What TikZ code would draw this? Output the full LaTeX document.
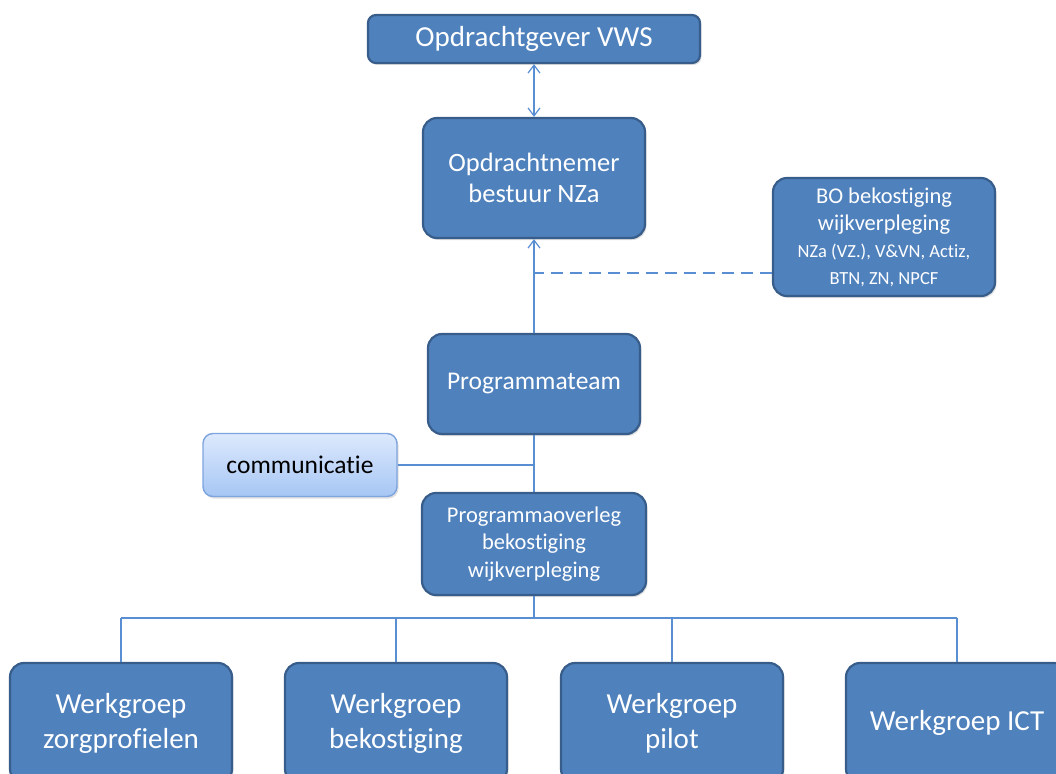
\documentclass[tikz,border=0pt]{standalone}
\usepackage{fontspec}
\setmainfont[Ligatures=NoCommon]{Carlito}
\usetikzlibrary{arrows.meta,shadows}
\definecolor{boxfill}{HTML}{4F81BD}
\definecolor{boxline}{HTML}{385D8A}
\definecolor{link}{HTML}{5A8ED2}
\definecolor{comtop}{HTML}{DDE9FD}
\definecolor{combot}{HTML}{A6C6F4}
\definecolor{comline}{HTML}{7DA4DE}

\begin{document}
\begin{tikzpicture}[x=1pt,y=-1pt,
  unit/.style={draw=boxline,fill=boxfill,line width=2.2pt,rounded corners=14pt,
    text=white,align=center,inner sep=0pt,
    drop shadow={opacity=0.25,shadow xshift=1.5pt,shadow yshift=-2pt}},
  link/.style={draw=link,line width=1.4pt},
  tip/.style={-{Straight Barb[length=8pt,width=12pt,line width=1.2pt]}}]
\useasboundingbox (0,0) rectangle (1056,773);
\clip (0,0) rectangle (1056,773);
\node[unit,rounded corners=8pt,minimum width=332pt,minimum height=48pt,
  font=\fontsize{29}{33}\selectfont] (vws) at (534,39) {Opdrachtgever VWS};
\node[unit,minimum width=222pt,minimum height=120pt,
  font=\fontsize{26.5}{31}\selectfont] (nza) at (534,178) {Opdrachtnemer\\bestuur NZa};
\node[unit,minimum width=222pt,minimum height=118pt,
  font=\fontsize{22.5}{27}\selectfont] (bo) at (884,237)
  {BO bekostiging\\wijkverpleging\\{\fontsize{18.5}{25}\selectfont NZa (VZ.), V\&VN, Actiz,}\\{\fontsize{18.5}{23}\selectfont BTN, ZN, NPCF}};
\node[unit,minimum width=212pt,minimum height=100pt,
  font=\fontsize{25.5}{30}\selectfont] (team) at (534,384) {Programmateam};
\node[unit,minimum width=224pt,minimum height=102pt,
  font=\fontsize{22.5}{27.5}\selectfont] (overleg) at (534,544)
  {Programmaoverleg\\bekostiging\\wijkverpleging};
\node[draw=comline,line width=1.4pt,top color=comtop,bottom color=combot,
  rounded corners=10pt,minimum width=194pt,minimum height=63pt,inner sep=0pt,
  font=\fontsize{25.5}{30}\selectfont,
  drop shadow={opacity=0.25,shadow xshift=1.5pt,shadow yshift=-2pt}] (com) at (300,465) {communicatie};
\foreach \n/\x/\t in {zorg/121/{Werkgroep\\zorgprofielen},bek/396/{Werkgroep\\bekostiging},pilot/672/{Werkgroep\\pilot},ict/957/{Werkgroep ICT}}{
  \node[unit,minimum width=222pt,minimum height=120pt,
    font=\fontsize{29}{35}\selectfont] (wg\n) at (\x,723) {\t};
}
\coordinate (split) at (534,618);
\coordinate (bojoin) at (534,273);
\coordinate (comjoin) at (534,465);
\draw[link,{Straight Barb[length=8pt,width=12pt,line width=1.2pt]}-{Straight Barb[length=8pt,width=12pt,line width=1.2pt]}] (vws) -- (nza);
\draw[link,tip] (team) -- (nza);
\draw[link,dashed,dash pattern=on 12pt off 7pt] (bo.west |- bojoin) -- (bojoin);
\draw[link] (team) -- (overleg);
\draw[link] (com) -- (comjoin);
\draw[link] (overleg) -- (split);
\draw[link] (wgzorg.north |- split) -- (wgict.north |- split);
\foreach \n in {zorg,bek,pilot,ict}
  \draw[link] (wg\n.north |- split) -- (wg\n);
\end{tikzpicture}
\end{document}
